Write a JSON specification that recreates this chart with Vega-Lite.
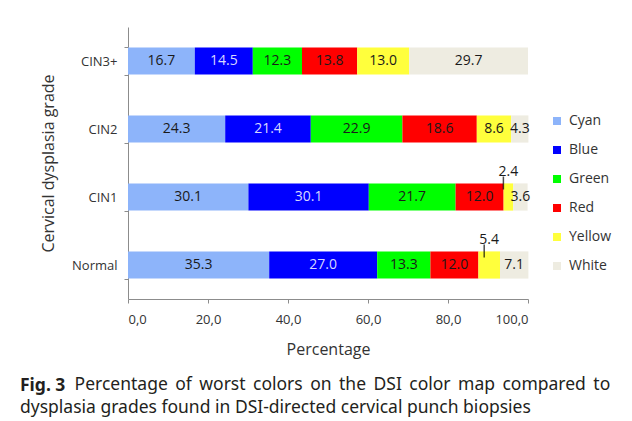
{
  "$schema": "https://vega.github.io/schema/vega-lite/v6.json",
  "width": 400,
  "height": 272,
  "autosize": {"type": "none"},
  "padding": {"left": 128, "top": 27, "right": 104, "bottom": 122},
  "background": "white",
  "data": {
    "values": [
      {"grade": "CIN3+", "color": "Cyan", "i": 1, "pct": 16.7},
      {"grade": "CIN3+", "color": "Blue", "i": 2, "pct": 14.5},
      {"grade": "CIN3+", "color": "Green", "i": 3, "pct": 12.3},
      {"grade": "CIN3+", "color": "Red", "i": 4, "pct": 13.8},
      {"grade": "CIN3+", "color": "Yellow", "i": 5, "pct": 13.0},
      {"grade": "CIN3+", "color": "White", "i": 6, "pct": 29.7},
      {"grade": "CIN2", "color": "Cyan", "i": 1, "pct": 24.3},
      {"grade": "CIN2", "color": "Blue", "i": 2, "pct": 21.4},
      {"grade": "CIN2", "color": "Green", "i": 3, "pct": 22.9},
      {"grade": "CIN2", "color": "Red", "i": 4, "pct": 18.6},
      {"grade": "CIN2", "color": "Yellow", "i": 5, "pct": 8.6},
      {"grade": "CIN2", "color": "White", "i": 6, "pct": 4.3},
      {"grade": "CIN1", "color": "Cyan", "i": 1, "pct": 30.1},
      {"grade": "CIN1", "color": "Blue", "i": 2, "pct": 30.1},
      {"grade": "CIN1", "color": "Green", "i": 3, "pct": 21.7},
      {"grade": "CIN1", "color": "Red", "i": 4, "pct": 12.0},
      {"grade": "CIN1", "color": "Yellow", "i": 5, "pct": 2.4},
      {"grade": "CIN1", "color": "White", "i": 6, "pct": 3.6},
      {"grade": "Normal", "color": "Cyan", "i": 1, "pct": 35.3},
      {"grade": "Normal", "color": "Blue", "i": 2, "pct": 27.0},
      {"grade": "Normal", "color": "Green", "i": 3, "pct": 13.3},
      {"grade": "Normal", "color": "Red", "i": 4, "pct": 12.0},
      {"grade": "Normal", "color": "Yellow", "i": 5, "pct": 5.4},
      {"grade": "Normal", "color": "White", "i": 6, "pct": 7.1}
    ]
  },
  "transform": [
    {"stack": "pct", "groupby": ["grade"], "sort": [{"field": "i", "order": "ascending"}], "as": ["x0", "x1"]},
    {"calculate": "(datum.x0 + datum.x1) / 2", "as": "mid"}
  ],
  "title": {
    "text": "Fig. 3",
    "subtitle": ["\u200b\u00a0\u00a0\u00a0\u00a0\u00a0\u00a0\u00a0\u00a0\u00a0\u00a0\u00a0\u00a0Percentage \u2009of \u2009worst \u2009colors \u2009on \u2009the \u2009DSI \u2009color \u2009map \u2009compared \u2009to", "dysplasia grades found in DSI-directed cervical punch biopsies"],
    "orient": "bottom",
    "anchor": "start",
    "frame": "group",
    "dx": -108,
    "offset": 20,
    "font": "Noto Sans",
    "subtitleFont": "Noto Sans",
    "fontSize": 17.5,
    "subtitleFontSize": 17.5,
    "fontWeight": "bold",
    "subtitleFontWeight": "normal",
    "lineHeight": 23,
    "subtitleLineHeight": 23,
    "subtitlePadding": -19,
    "color": "#231f20",
    "subtitleColor": "#231f20"
  },
  "encoding": {
    "y": {
      "field": "grade",
      "type": "nominal",
      "sort": ["CIN3+", "CIN2", "CIN1", "Normal"],
      "scale": {"paddingInner": 0.6, "paddingOuter": 0.3},
      "axis": {
        "title": "Cervical dysplasia grade",
        "titleFont": "Open Sans",
        "titleFontSize": 16,
        "titleFontWeight": "normal",
        "titleColor": "#333333",
        "titlePadding": 15,
        "labelFont": "Open Sans",
        "labelFontSize": 13,
        "labelColor": "#333333",
        "labelPadding": 7,
        "tickSize": 4,
        "tickBand": "extent",
        "tickColor": "#8c8c8c",
        "domainColor": "#8c8c8c"
      }
    }
  },
  "layer": [
    {
      "mark": {"type": "bar"},
      "encoding": {
        "x": {
          "field": "x0",
          "type": "quantitative",
          "scale": {"domain": [0, 100], "nice": false},
          "axis": {
            "title": "Percentage",
            "values": [0, 20, 40, 60, 80, 100],
            "labelExpr": "replace(format(datum.value, '.1f'), '.', ',')",
            "grid": false,
            "titleFont": "Open Sans",
            "titleFontSize": 16,
            "titleFontWeight": "normal",
            "titleColor": "#333333",
            "titlePadding": 15,
            "labelFont": "Open Sans",
            "labelFontSize": 13,
            "labelColor": "#333333",
            "labelPadding": 10,
            "tickSize": 4,
            "tickColor": "#8c8c8c",
            "domainColor": "#8c8c8c"
          }
        },
        "x2": {"field": "x1"},
        "color": {
          "field": "color",
          "type": "nominal",
          "scale": {
            "domain": ["Cyan", "Blue", "Green", "Red", "Yellow", "White"],
            "range": ["#8db4fa", "#0000ff", "#00ff00", "#ff0000", "#ffff3c", "#eeece1"]
          },
          "legend": {
            "title": null,
            "orient": "none",
            "legendX": 422,
            "legendY": 87,
            "symbolType": "square",
            "symbolSize": 64,
            "symbolStrokeWidth": 0,
            "labelFont": "Open Sans",
            "labelFontSize": 14,
            "labelColor": "#333333",
            "labelOffset": 5,
            "rowPadding": 15
          }
        }
      }
    },
    {
      "transform": [{"filter": "!(datum.color === 'Yellow' && (datum.grade === 'CIN1' || datum.grade === 'Normal'))"}],
      "mark": {"type": "text", "font": "Open Sans", "fontSize": 14, "baseline": "middle"},
      "encoding": {
        "x": {"field": "mid", "type": "quantitative"},
        "text": {"field": "pct", "type": "quantitative", "format": ".1f"},
        "color": {"condition": {"test": "datum.color === 'Blue'", "value": "#d8d8ff"}, "value": "#1a1a1a"}
      }
    },
    {
      "transform": [{"filter": "datum.color === 'Yellow' && (datum.grade === 'CIN1' || datum.grade === 'Normal')"}],
      "mark": {"type": "text", "font": "Open Sans", "fontSize": 14, "baseline": "middle", "dy": -25, "color": "#1a1a1a"},
      "encoding": {
        "x": {"field": "mid", "type": "quantitative"},
        "text": {"field": "pct", "type": "quantitative", "format": ".1f"}
      }
    },
    {
      "transform": [{"filter": "datum.color === 'Yellow' && (datum.grade === 'CIN1' || datum.grade === 'Normal')"}],
      "mark": {"type": "tick", "orient": "vertical", "size": 13, "thickness": 1.5, "color": "#000000", "xOffset": -5, "yOffset": -14},
      "encoding": {
        "x": {"field": "mid", "type": "quantitative"}
      }
    }
  ],
  "config": {
    "view": {"stroke": null}
  }
}
